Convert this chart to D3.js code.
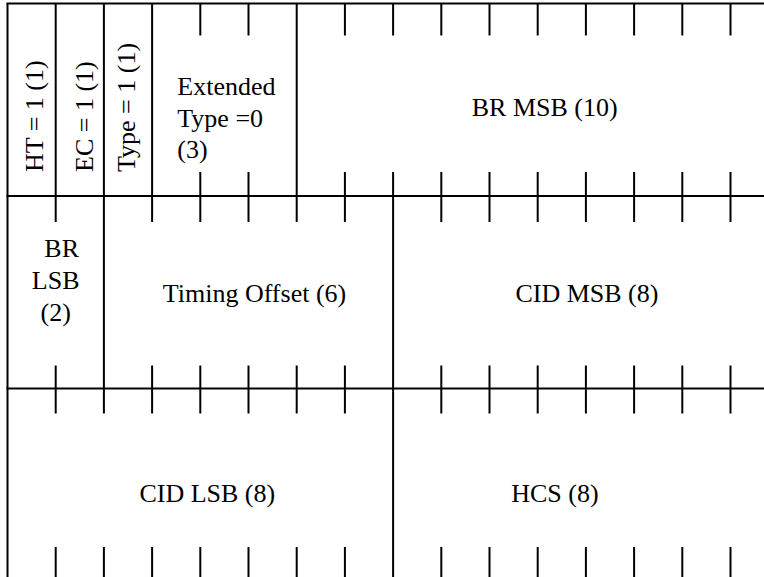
<!DOCTYPE html>
<html>
<head>
<meta charset="utf-8">
<script src="https://cdn.jsdelivr.net/npm/d3@7"></script>
<style>
  html, body { margin: 0; padding: 0; background: #fff; }
  svg { display: block; }
</style>
</head>
<body>
<svg id="chart" width="764" height="577"></svg>
<script>
// ---- data ----
const fieldLabels = [
  ["HT = 1 (1)"], ["EC = 1 (1)"], ["Type = 1 (1)"],
  ["Extended", "Type =0", "(3)"], ["BR MSB (10)"],
  ["BR", "LSB", "(2)"], ["Timing Offset (6)"], ["CID MSB (8)"],
  ["CID LSB (8)"], ["HCS (8)"]
];
const fieldBits = [1, 1, 1, 3, 10, 2, 6, 8, 8, 8];
const fieldRows = [0, 0, 0, 0, 0, 1, 1, 1, 2, 2];
const bitsPerRow = 16;
const rowCount = 3;

// ---- style / layout ----
const W = 764, H = 577;
const svg = d3.select("#chart");
const x = d3.scaleLinear().domain([0, bitsPerRow]).range([7.5, 7.5 + bitsPerRow * 48.2]);
const y = d3.scaleLinear().domain([0, rowCount]).range([3.5, 3.5 + rowCount * 192.5]);
const tickTop = [32, 26, 25];
const tickBottom = [24, 23, 34];
const FONT = "'Liberation Serif', 'Times New Roman', serif";
const FS = 26;
// text placement styles per field: mode and small offsets
const textStyle = [
  {mode: "rot", dx: 3, by: 172}, {mode: "rot", dx: 5, by: 172}, {mode: "rot", dx: -2, by: 172},
  {mode: "block", dx: 2, by: 95, lh: 31.5},
  {mode: "center", dx: 7, by: 116},
  {mode: "lines", dx: 0, by: 257, lh: 32, ldx: [6, 0, 0]},
  {mode: "center", dx: 6, by: 302},
  {mode: "center", dx: 1, by: 302},
  {mode: "center", dx: 7, by: 502},
  {mode: "center", dx: -31, by: 502}
];

// compute field positions
const fields = [];
const used = new Array(rowCount).fill(0);
fieldBits.forEach((b, i) => {
  const r = fieldRows[i];
  fields.push({i, row: r, start: used[r], end: used[r] + b, labels: fieldLabels[i]});
  used[r] += b;
});

const g = svg.append("g");
const lineStyle = sel => sel.attr("stroke", "#000").attr("stroke-width", 2).attr("fill", "none");

// horizontal row lines
d3.range(rowCount + 1).forEach(r => {
  g.append("line").attr("x1", x(0) - 1).attr("x2", x(bitsPerRow) + 1)
    .attr("y1", y(r)).attr("y2", y(r)).call(lineStyle);
});
// left border
g.append("line").attr("x1", x(0)).attr("x2", x(0)).attr("y1", y(0)).attr("y2", y(rowCount)).call(lineStyle);

// field boundaries and ticks
fields.forEach(f => {
  g.append("line").attr("x1", x(f.end)).attr("x2", x(f.end))
    .attr("y1", y(f.row)).attr("y2", y(f.row + 1)).call(lineStyle);
  for (let b = f.start + 1; b < f.end; b++) {
    g.append("line").attr("x1", x(b)).attr("x2", x(b))
      .attr("y1", y(f.row)).attr("y2", y(f.row) + tickTop[f.row]).call(lineStyle);
    g.append("line").attr("x1", x(b)).attr("x2", x(b))
      .attr("y1", y(f.row + 1) - tickBottom[f.row]).attr("y2", y(f.row + 1)).call(lineStyle);
  }
});

// labels
fields.forEach(f => {
  const s = textStyle[f.i];
  const cx = (x(f.start) + x(f.end)) / 2 + s.dx;
  if (s.mode === "rot") {
    g.append("text").attr("transform", `translate(${cx},${s.by}) rotate(-90)`)
      .attr("text-anchor", "start").attr("dy", "0.33em")
      .attr("font-family", FONT).attr("font-size", FS).attr("fill", "#000")
      .text(f.labels[0]);
  } else if (s.mode === "block") {
    const t = g.append("text").attr("font-family", FONT).attr("font-size", FS).attr("fill", "#000");
    f.labels.forEach((l, k) => t.append("tspan").attr("y", s.by + k * s.lh).text(l));
    let maxW = 0;
    t.selectAll("tspan").each(function() { maxW = Math.max(maxW, this.getComputedTextLength()); });
    t.selectAll("tspan").attr("x", cx - maxW / 2);
  } else if (s.mode === "lines") {
    f.labels.forEach((l, k) => {
      g.append("text").attr("x", cx + (s.ldx ? s.ldx[k] : 0)).attr("y", s.by + k * s.lh)
        .attr("text-anchor", "middle")
        .attr("font-family", FONT).attr("font-size", FS).attr("fill", "#000").text(l);
    });
  } else {
    g.append("text").attr("x", cx).attr("y", s.by).attr("text-anchor", "middle")
      .attr("font-family", FONT).attr("font-size", FS).attr("fill", "#000").text(f.labels[0]);
  }
});
</script>
</body>
</html>
